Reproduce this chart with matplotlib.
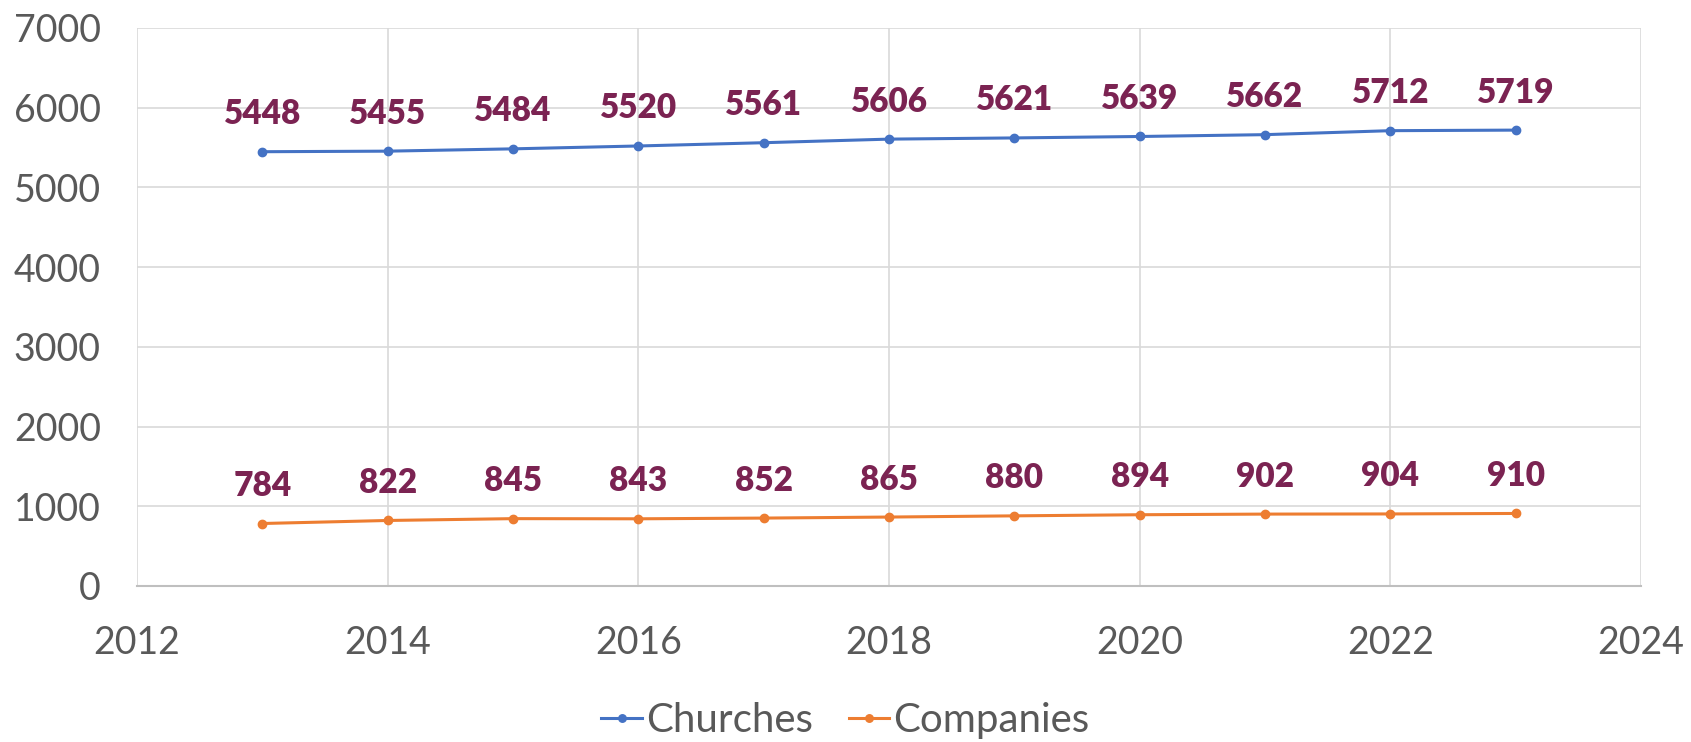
import matplotlib
matplotlib.use("Agg")
import matplotlib.pyplot as plt

years = [2013, 2014, 2015, 2016, 2017, 2018, 2019, 2020, 2021, 2022, 2023]
churches = [5448, 5455, 5484, 5520, 5561, 5606, 5621, 5639, 5662, 5712, 5719]
companies = [784, 822, 845, 843, 852, 865, 880, 894, 902, 904, 910]

plt.rcParams['font.family'] = ['Lato', 'DejaVu Sans']

fig = plt.figure(figsize=(16.91, 7.42), dpi=100)
ax = fig.add_axes([137 / 1691, 1 - 586 / 742, (1641 - 137) / 1691, (586 - 28) / 742])

ax.plot(years, churches, color='#4472C4', lw=2.2, marker='o', ms=6, label='Churches')
ax.plot(years, companies, color='#ED7D31', lw=2.2, marker='o', ms=6, label='Companies')

# value labels above each point
for series in (churches, companies):
    for x, y in zip(years, series):
        ax.annotate(str(y), (x, y), xytext=(0, 27), textcoords='offset points',
                    ha='center', va='center', fontsize=24, fontweight='heavy',
                    color='#7B2352')

ax.set_xlim(2012, 2024)
ax.set_ylim(0, 7000)
ax.set_xticks(range(2012, 2025, 2))
ax.set_yticks(range(0, 7001, 1000))
ax.grid(True, color='#D9D9D9', lw=1.2)
ax.set_axisbelow(True)
for side in ('top', 'right', 'left'):
    ax.spines[side].set_visible(False)
ax.spines['bottom'].set_color('#BFBFBF')
ax.spines['bottom'].set_linewidth(1.5)
ax.tick_params(length=0, labelsize=27, labelcolor='#595959')
ax.tick_params(axis='y', pad=26)
ax.tick_params(axis='x', pad=28)

fig.legend(loc='lower center', bbox_to_anchor=(0.5, -0.045), ncol=2, frameon=False,
           fontsize=29, labelcolor='#595959', handlelength=1.0, handletextpad=0.1,
           columnspacing=0.9, markerscale=0.9)

fig.savefig('out.png', dpi=100)
